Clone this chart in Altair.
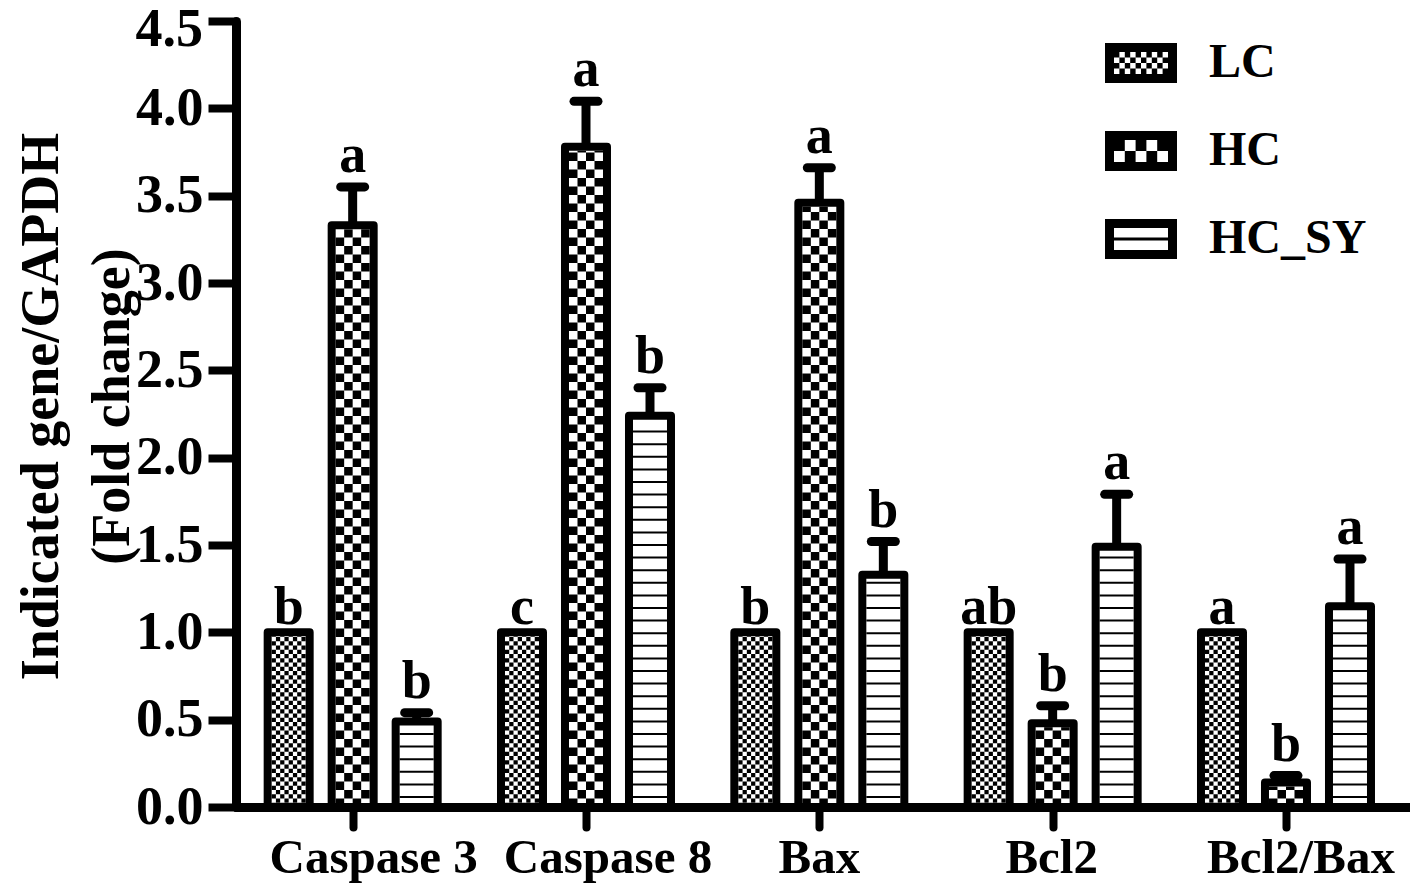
import math
import altair as alt
import pandas as pd

# ---------------- data ----------------
genes = ["Caspase 3", "Caspase 8", "Bax", "Bcl2", "Bcl2/Bax"]
groups = ["LC", "HC", "HC_SY"]
lc_mean = [1.0, 1.0, 1.0, 1.0, 1.0]
hc_mean = [3.33, 3.78, 3.46, 0.48, 0.14]
hcsy_mean = [0.49, 2.24, 1.33, 1.49, 1.15]
lc_err = [0.0, 0.0, 0.0, 0.0, 0.0]
hc_err = [0.22, 0.26, 0.20, 0.10, 0.04]
hcsy_err = [0.05, 0.16, 0.19, 0.30, 0.27]
lc_letters = ["b", "c", "b", "ab", "a"]
hc_letters = ["a", "a", "a", "b", "b"]
hcsy_letters = ["b", "b", "b", "a", "a"]
y_ticks = [0.0, 0.5, 1.0, 1.5, 2.0, 2.5, 3.0, 3.5, 4.0, 4.5]

# ---------------- layout ----------------
FONT = "Liberation Serif"
PAD_TOP = 13
W, H = 1174, 786
GROUP_PX = 233.33
XMIN = 0.5
XMAX = XMIN + W / GROUP_PX
YMAX = 4.5
PX = 1.0 / GROUP_PX       # x data units per pixel
PY = YMAX / H             # y data units per pixel
OFFSET_PX = {"LC": -64, "HC": 0, "HC_SY": 64}
HALF_BAR = 21             # geometry half width (px)
INNER = 17                # inner (pattern) half width (px)
STROKE = 8
LABEL_SHIFT_PX = [21, 22, 0, -1, 15]   # category label nudges as in the source

means = {"LC": lc_mean, "HC": hc_mean, "HC_SY": hcsy_mean}
errs = {"LC": lc_err, "HC": hc_err, "HC_SY": hcsy_err}
letters = {"LC": lc_letters, "HC": hc_letters, "HC_SY": hcsy_letters}

rows = []
for gi, gene in enumerate(genes):
    for grp in groups:
        v = means[grp][gi]
        e = errs[grp][gi]
        xc = (gi + 1) + OFFSET_PX[grp] * PX
        top = v + e
        rows.append(dict(
            gene=gene, group=grp, value=v, err=e, base=0.0,
            xc=xc, x1=xc - HALF_BAR * PX, x2=xc + HALF_BAR * PX,
            top=top, cap1=xc - 12 * PX, cap2=xc + 12 * PX,
            label_y=top + ((15 if e > 0 else 8) * PY),
            letter=letters[grp][gi],
        ))
bars = pd.DataFrame(rows)

cat_labels = pd.DataFrame({
    "gene": genes,
    "lx": [i + 1 + s * PX for i, s in enumerate(LABEL_SHIFT_PX)],
})

# pattern cells (decoration derived from bar values)
cells = []
stripes = []
for r in rows:
    inner_top_px = r["value"] / PY - STROKE / 2
    left_px = -INNER
    if r["group"] in ("LC", "HC"):
        ncols = 8 if r["group"] == "LC" else 4
        cs = 2 * INNER / ncols
        nrows = int(math.ceil(inner_top_px / cs))
        for ri in range(nrows):
            y0 = ri * cs
            y1 = min((ri + 1) * cs, inner_top_px)
            for ci in range(ncols):
                if (ri + ci) % 2 == 0:
                    cells.append(dict(
                        cx1=r["xc"] + (left_px + ci * cs) * PX,
                        cx2=r["xc"] + (left_px + (ci + 1) * cs) * PX,
                        cy1=y0 * PY, cy2=y1 * PY))
    else:
        yk = 9.0
        while yk + 2 < inner_top_px:
            stripes.append(dict(
                sx1=r["xc"] - INNER * PX, sx2=r["xc"] + INNER * PX,
                sy1=yk * PY, sy2=(yk + 2) * PY))
            yk += 12.6
cells = pd.DataFrame(cells)
stripes = pd.DataFrame(stripes)


# legend swatches as custom symbol paths (unit = half of symbol width)
def f(v):
    return f"{v:.4f}".rstrip("0").rstrip(".")


def rect(x0, y0, x1, y1, cw=True):
    if cw:
        return f"M{f(x0)},{f(y0)}H{f(x1)}V{f(y1)}H{f(x0)}Z"
    return f"M{f(x0)},{f(y0)}V{f(y1)}H{f(x1)}V{f(y0)}Z"


BH = 20 / 36
IX, IY = 0.75, BH - 0.25


def swatch(kind):
    p = rect(-1, -BH, 1, BH) + rect(-IX, -IY, IX, IY, cw=False)
    if kind == "stripe":
        p += rect(-IX, -0.045, IX, 0.045)
        return p
    nc, nr = (10, 4) if kind == "small" else (5, 2)
    cw_, ch_ = 2 * IX / nc, 2 * IY / nr
    for ri in range(nr):
        for ci in range(nc):
            if (ri + ci) % 2 == 0:
                p += rect(-IX + ci * cw_, -IY + ri * ch_,
                          -IX + (ci + 1) * cw_, -IY + (ri + 1) * ch_)
    return p


shapes = [swatch("small"), swatch("large"), swatch("stripe")]

# ---------------- encodings ----------------
xscale = alt.Scale(domain=[XMIN, XMAX], nice=False, zero=False)
yscale = alt.Scale(domain=[0, YMAX], nice=False, zero=True)
top_tick = y_ticks[-1]
xaxis = alt.Axis(values=[1, 2, 3, 4, 5], labels=False, title=None,
                 grid=False, domainColor="black", domainWidth=9, domainCap="round",
                 tickColor="black", tickWidth=8, tickSize=20, tickCap="round")
yaxis = alt.Axis(values=y_ticks,
                 labelExpr=f"datum.value == {top_tick} ? '' : format(datum.value, '.1f')",
                 grid=False,
                 title=["Indicated gene/GAPDH", "(Fold change)"],
                 titleFont=FONT, titleFontSize=54, titleFontWeight="bold",
                 titleColor="black", titleX=-179, titleY=406 - 8 - PAD_TOP,
                 titleAngle=-90, titleBaseline="alphabetic", titleLineHeight=71,
                 titleAlign="center", titleLimit=2000,
                 domainColor="black", domainWidth=9, domainCap="round",
                 tickColor="black", tickWidth=8, tickSize=28,
                 labelFont=FONT, labelFontSize=54, labelFontWeight="bold",
                 labelColor="black", labelPadding=5, labelFlush=False,
                 labelOverlap=False, labelLimit=500)


def X(field):
    return alt.X(field, type="quantitative", scale=xscale, axis=xaxis)


def Y(field):
    return alt.Y(field, type="quantitative", scale=yscale, axis=yaxis)


bar_layer = alt.Chart(bars).mark_rect(
    fill="white", stroke="black", strokeWidth=STROKE, strokeJoin="round"
).encode(x=X("x1"), x2="x2", y=Y("base"), y2="value")

cell_layer = alt.Chart(cells).mark_rect(fill="black", strokeWidth=0).encode(
    x=X("cx1"), x2="cx2", y=Y("cy1"), y2="cy2")

stripe_layer = alt.Chart(stripes).mark_rect(fill="black", strokeWidth=0).encode(
    x=X("sx1"), x2="sx2", y=Y("sy1"), y2="sy2")

err_data = bars[bars["err"] > 0]
err_layer = alt.Chart(err_data).mark_rule(color="black", strokeWidth=9).encode(
    x=X("xc"), y=Y("value"), y2="top")
cap_layer = alt.Chart(err_data).mark_rule(
    color="black", strokeWidth=9, strokeCap="round"
).encode(x=X("cap1"), x2="cap2", y=Y("top"))

text_layer = alt.Chart(bars).mark_text(
    font=FONT, fontSize=54, fontWeight="bold", color="black",
    baseline="alphabetic", align="center"
).encode(x=X("xc"), y=Y("label_y"), text="letter:N")

# category labels under the x axis
cat_layer = alt.Chart(cat_labels).mark_text(
    font=FONT, fontSize=49, fontWeight="bold", color="black",
    baseline="alphabetic", align="center"
).encode(x=X("lx"), y=alt.value(H + 66), text="gene:N")

# top y tick label, nudged down so it stays inside the page
top_label = pd.DataFrame({"v": [top_tick], "t": [f"{top_tick:.1f}"]})
top_label_layer = alt.Chart(top_label).mark_text(
    font=FONT, fontSize=54, fontWeight="bold", color="black",
    baseline="middle", align="right", dx=-33, dy=9
).encode(x=alt.value(0), y=Y("v"), text="t:N")

legend_layer = alt.Chart(bars).mark_point(
    filled=True, color="black", opacity=0
).encode(
    x=X("xc"), y=Y("value"),
    shape=alt.Shape("group:N", scale=alt.Scale(domain=groups, range=shapes),
                    legend=alt.Legend(
                        title=None, orient="none", legendX=869,
                        legendY=27 - 8 - PAD_TOP,
                        symbolSize=5184, symbolStrokeWidth=0,
                        symbolFillColor="black", symbolOpacity=1,
                        labelFont=FONT, labelFontSize=48, labelFontWeight="bold",
                        labelColor="black", labelOffset=32, labelLimit=500,
                        rowPadding=28, padding=0)),
)

chart = alt.layer(
    bar_layer, cell_layer, stripe_layer, err_layer, cap_layer, text_layer,
    cat_layer, top_label_layer, legend_layer
).properties(
    width=W, height=H,
    autosize=alt.AutoSizeParams(type="none"),
    padding={"left": 228, "top": PAD_TOP, "right": 0, "bottom": 876 - PAD_TOP - H},
).configure_view(stroke=None)

chart.save("out.html", embed_options={"renderer": "svg", "actions": False})
